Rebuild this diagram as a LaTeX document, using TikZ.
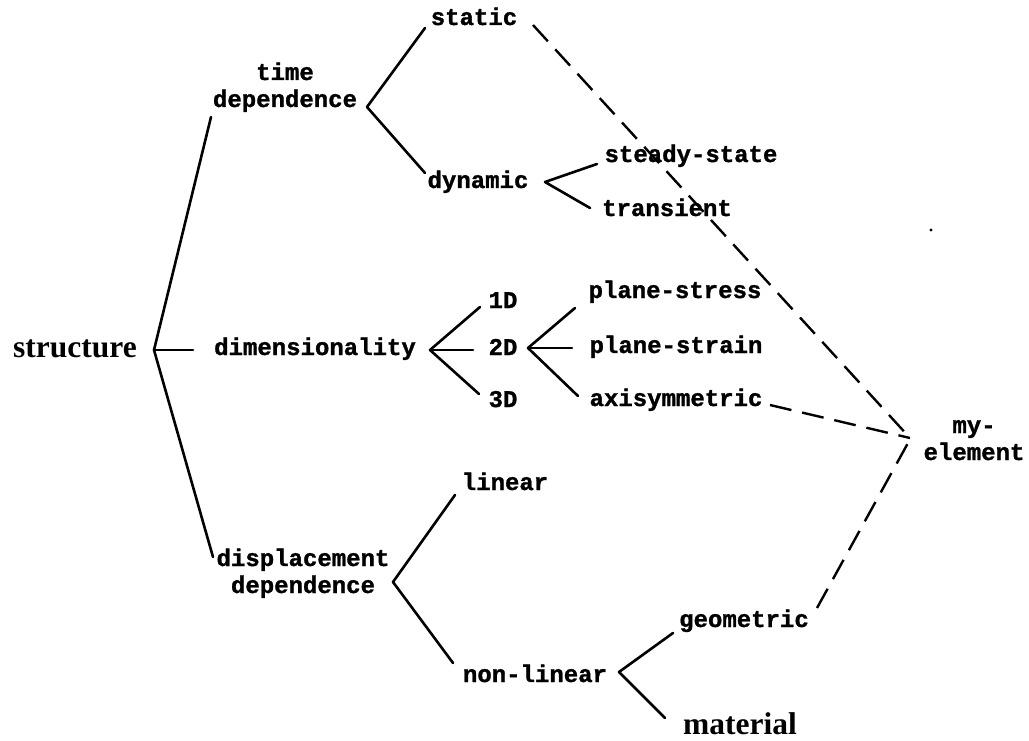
\documentclass[tikz,border=0pt]{standalone}
\usepackage{fontspec}
\setmainfont{Liberation Serif}
\newfontfamily\monof{Liberation Mono}[BoldFeatures={FakeBold=1.2}]
\usetikzlibrary{calc}
\tikzset{
  lab/.style={font=\monof\bfseries\fontsize{24}{27}\selectfont, inner sep=0pt, anchor=base},
  big/.style={font=\bfseries\fontsize{31.5}{36}\selectfont, inner sep=0pt, anchor=base},
  br/.style={line width=2.6pt, line cap=round, line join=round},
  dl/.style={line width=2.4pt, dash pattern=on 22pt off 11pt},
}
\newcommand{\twol}[2]{\begin{tabular}[b]{@{}c@{}}#1\\#2\end{tabular}}
\begin{document}
\begin{tikzpicture}[x=1pt,y=-1pt]
\useasboundingbox (0,0) rectangle (1029,741);
% nodes
\node[big] (S)  at (75,357)  {structure};
\node[lab] (TD) at (285,107) {\twol{time}{dependence}};
\node[lab] (DIM) at (315,355) {dimensionality};
\node[lab] (DD) at (303,593) {\twol{displacement}{dependence}};
\node[lab] (ST) at (474,25)  {static};
\node[lab] (DY) at (478,188) {dynamic};
\node[lab] (SS) at (691,162) {steady-state};
\node[lab] (TR) at (667,216) {transient};
\node[lab] (D1) at (503,308) {1D};
\node[lab] (D2) at (503,355) {2D};
\node[lab] (D3) at (503,407) {3D};
\node[lab] (PS) at (675,298) {plane-stress};
\node[lab] (PN) at (676,353) {plane-strain};
\node[lab] (AX) at (676,406) {axisymmetric};
\node[lab] (LI) at (505,490) {linear};
\node[lab] (NL) at (535,682) {non-linear};
\node[lab] (GE) at (744,627) {geometric};
\node[big] (MA) at (740,734) {material};
\node[lab] (ME) at (974,460) {\twol{my-}{element}};
% solid branches
\draw[br] ($(TD.base)+(-74,10)$) -- ($(S.base)+(79,-7)$) -- ($(DD.base)+(-90,-36)$);
\draw[br] ($(S.base)+(80,-7)$) -- ($(DIM.base)+(-122,-5)$);
\draw[br] ($(ST.base)+(-49,3)$) -- ($(TD.base)+(82,0)$) -- ($(DY.base)+(-53,-15)$);
\draw[br] ($(SS.base)+(-94,2)$) -- ($(DY.base)+(67,-6)$) -- ($(TR.base)+(-77,-8)$);
\draw[br] ($(D1.base)+(-23,-1)$) -- ($(DIM.base)+(115,-5)$) -- ($(D3.base)+(-24,-13)$);
\draw[br] ($(DIM.base)+(117,-5)$) -- ($(D2.base)+(-30,-5)$);
\draw[br] ($(PS.base)+(-100,10)$) -- ($(D2.base)+(25,-7)$) -- ($(AX.base)+(-98,-10)$);
\draw[br] ($(D2.base)+(26,-7)$) -- ($(PN.base)+(-104,-5)$);
\draw[br] ($(LI.base)+(-50,5)$) -- ($(DD.base)+(90,-11)$) -- ($(NL.base)+(-82,-19)$);
\draw[br] ($(GE.base)+(-71,6)$) -- ($(NL.base)+(84,-10)$) -- ($(MA.base)+(-75,-16)$);
% dashed connectors to my-element
\draw[dl] ($(ST.base)+(59,0)$) -- ($(ME.base)+(-64,-22)$);
\draw[dl] ($(AX.base)+(94,-1)$) -- ($(ME.base)+(-64,-22)$);
\draw[dl] ($(GE.base)+(73,-19)$) -- ($(ME.base)+(-66,-17)$);
% stray speck
\fill (931,230) circle (1.6);
\end{tikzpicture}
\end{document}
